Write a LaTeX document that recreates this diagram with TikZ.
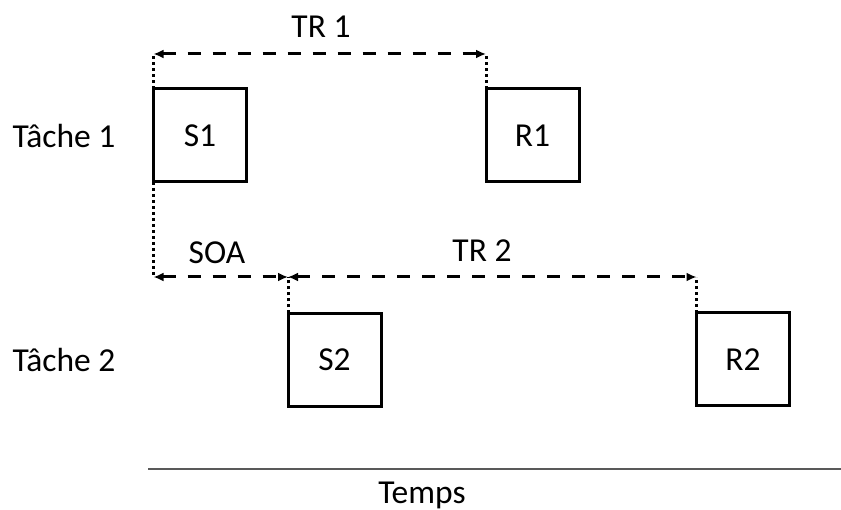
\documentclass[tikz,border=0pt]{standalone}
\usepackage{fontspec}
\setmainfont{Carlito}
\usetikzlibrary{arrows.meta,positioning}

\begin{document}
\begin{tikzpicture}[x=1pt,y=-1pt,>={Latex[length=10pt,width=9pt]},
                    box/.style={draw,line width=3pt,minimum size=93pt,inner sep=0pt,outer sep=0pt},
                    span/.style={<->,line width=3pt,dash pattern=on 13pt off 12pt},
                    guide/.style={line width=3pt,dash pattern=on 3pt off 3pt},
                    axis/.style={line width=2pt,black!65},
                    lbl/.style={anchor=base,inner sep=0pt},
                    font=\fontsize{33.5}{40}\selectfont]

  \useasboundingbox (0,0) rectangle (841,510);

  \node[box] (S1) at (200,135.5)   {S1};
  \node[box] (R1) at (532.5,135.5) {R1};
  \node[box] (S2) at (334.5,360)   {S2};
  \node[box] (R2) at (743,359.5)   {R2};

  \node[lbl] (tache1) at (64,148) {Tâche 1};
  \node[lbl] (tache2) at (64,372) {Tâche 2};
  \node[lbl] (tr1)    at (321,38) {TR 1};
  \node[lbl] (soa)    at (217,264) {SOA};
  \node[lbl] (tr2)    at (482,262) {TR 2};
  \node[lbl] (temps)  at (422,503) {Temps};

  \coordinate (a1) at (S1.north west |- 0,54);
  \coordinate (a2) at (R1.north west |- 0,54);
  \coordinate (b1) at (S1.south west |- 0,277);
  \coordinate (b2) at (S2.north west |- 0,277);
  \coordinate (b3) at (R2.north west |- 0,277);
  \coordinate (t0) at (148,469);
  \coordinate (t1) at (841,469);

  \draw[guide] (S1.north west) -- (a1);
  \draw[guide] (R1.north west) -- (a2);
  \draw[span] (a1) -- (a2);

  \draw[guide] (S1.south west) -- (b1);
  \draw[guide] (S2.north west) -- (b2);
  \draw[guide] (R2.north west) -- (b3);
  \draw[span] (b1) -- (b2);
  \draw[span] (b2) -- (b3);

  \draw[axis] (t0) -- (t1);

\end{tikzpicture}
\end{document}
